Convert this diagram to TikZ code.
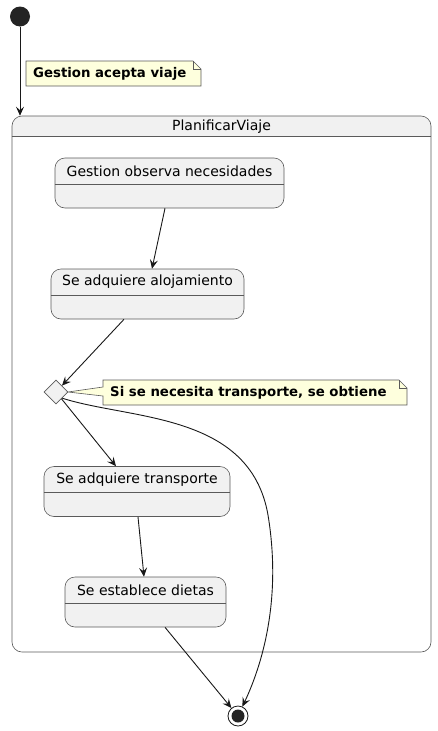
\documentclass[tikz,border=0pt]{standalone}
\usepackage{fontspec}
\setmainfont{DejaVu Sans}
\usetikzlibrary{arrows.meta,shapes.geometric}
\definecolor{stfill}{HTML}{F1F1F1}
\definecolor{stline}{HTML}{181818}
\definecolor{boxline}{HTML}{5A5A5A}
\definecolor{notefill}{HTML}{FEFFDD}
\begin{document}
\begin{tikzpicture}[x=1pt,y=-1pt,
  stbox/.style={draw=boxline,line width=0.6pt,fill=stfill,rounded corners=10,minimum height=50,inner sep=0},
  sttext/.style={font=\fontsize{14}{16}\selectfont,inner sep=0},
  sep/.style={draw=boxline,line width=0.6pt},
  notebox/.style={draw=boxline,line width=0.6pt,fill=notefill},
  notetext/.style={font=\bfseries\fontsize{13.3}{15}\selectfont,inner sep=0,anchor=west},
  arr/.style={draw=stline,line width=0.9pt,-{Stealth[length=9pt,width=8pt,inset=3.5pt]}}
]
\useasboundingbox (0,0) rectangle (437,731);

% initial
\node[circle,fill=stline!95,minimum size=20,inner sep=0] (init) at (20,16.5) {};

% composite
\begin{scope}
  \clip (12,116) rectangle (431,136);
  \fill[stfill,rounded corners=10] (12,116) rectangle (431,170);
\end{scope}
\node[draw=boxline,line width=0.6pt,rounded corners=10,minimum width=419,minimum height=536,inner sep=0] (comp) at (221.5,384) {};
\draw[sep] (comp.west |- 0,136) -- (comp.east |- 0,136);
\node[sttext] (comptitle) at (221.5,126.5) {PlanificarViaje};

% note 1
\draw[notebox] (26,61) -- (193,61) -- (201,69) -- (201,86) -- (26,86) -- cycle;
\draw[notebox,fill=none] (193,61) -- (193,69) -- (201,69);
\node[notetext] (n1) at (33,74) {Gestion acepta viaje};

% states
\node[stbox,minimum width=229] (s1) at (169.5,183) {};
\draw[sep] (s1.west |- 0,184) -- (s1.east |- 0,184);
\node[sttext] (s1t) at (169.5,171) {Gestion observa necesidades};

\node[stbox,minimum width=193] (s2) at (147.5,294) {};
\draw[sep] (s2.west |- 0,295) -- (s2.east |- 0,295);
\node[sttext] (s2t) at (147.5,282) {Se adquiere alojamiento};

\node[diamond,draw=boxline,line width=0.6pt,fill=stfill,minimum size=24,inner sep=0] (d) at (56,392) {};

\node[stbox,minimum width=186] (s3) at (137,491.5) {};
\draw[sep] (s3.west |- 0,492.5) -- (s3.east |- 0,492.5);
\node[sttext] (s3t) at (137,479.5) {Se adquiere transporte};

\node[stbox,minimum width=161] (s4) at (145.5,602) {};
\draw[sep] (s4.west |- 0,603) -- (s4.east |- 0,603);
\node[sttext] (s4t) at (145.5,590) {Se establece dietas};

% note 2
\draw[notebox] (103,380) -- (399,380) -- (407,388) -- (407,405) -- (103,405) -- (103,396) -- (68,392) -- (103,387) -- cycle;
\draw[notebox,fill=none] (399,380) -- (399,388) -- (407,388);
\node[notetext] (n2) at (110,393) {Si se necesita transporte, se obtiene};

% final
\node[circle,draw=stline,line width=0.8pt,fill=white,minimum size=20,inner sep=0] (fin) at (238,716) {};
\node[circle,fill=stline!95,minimum size=13,inner sep=0] (finin) at (fin) {};

% connectors
\draw[arr] (init) -- (init |- comp.north);
\draw[arr] ([xshift=-4.5pt]s1.south) -- ([xshift=4.5pt]s2.north);
\draw[arr] ([xshift=-23.5pt]s2.south) -- (d);
\draw[arr] (d) -- ([xshift=-21pt]s3.north);
\draw[arr] ([xshift=1pt]s3.south) -- ([xshift=-1.5pt]s4.north);
\draw[arr] ([xshift=19.5pt]s4.south) -- (fin);
\draw[arr] (d.south east) .. controls (130,420) and (250,412) .. (268,515) .. controls (282,600) and (262,665) .. (fin);
\end{tikzpicture}
\end{document}
